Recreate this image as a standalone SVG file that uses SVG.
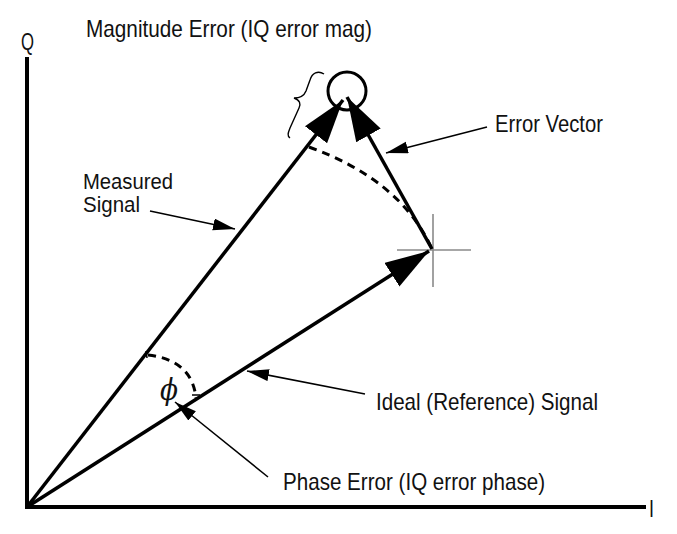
<svg xmlns="http://www.w3.org/2000/svg" width="677" height="534" viewBox="0 0 677 534">
<style>
text{font-family:"Liberation Sans",Arial,sans-serif;font-size:24px;fill:#111}
.axis{stroke:#000;stroke-width:4;fill:none}
.vec{stroke:#000;stroke-width:3.5;fill:none}
.ptr{stroke:#000;stroke-width:1.5;fill:none}
.dash{stroke:#000;stroke-width:3;fill:none;stroke-dasharray:8 6}
.cross{stroke:#8a8a8a;stroke-width:1.6}
</style>
<defs>
<marker id="big" markerUnits="userSpaceOnUse" markerWidth="46" markerHeight="30" refX="44" refY="14" orient="auto" viewBox="0 0 46 30">
<path d="M0,0 L44,14 L0,28 z" fill="#000"/>
</marker>
<marker id="small" markerUnits="userSpaceOnUse" markerWidth="24" markerHeight="14" refX="22" refY="6" orient="auto" viewBox="0 0 24 14">
<path d="M0,0 L22,6 L0,12 z" fill="#000"/>
</marker>
</defs>
<g id="axes">
<line class="axis" x1="27" y1="57" x2="27" y2="509"/>
<line class="axis" x1="25" y1="507" x2="646" y2="507"/>
<text id="q-label" x="21" y="50" textLength="13" lengthAdjust="spacingAndGlyphs">Q</text>
<text id="i-label" x="649" y="517" textLength="5" lengthAdjust="spacingAndGlyphs">I</text>
</g>
<g id="crosshair">
<line class="cross" x1="397" y1="250" x2="471" y2="250"/>
<line class="cross" x1="433" y1="214" x2="433" y2="287"/>
</g>
<g id="magnitude-circle">
<circle cx="347" cy="91" r="19" fill="none" stroke="#000" stroke-width="3"/>
<path d="M324,74 C318,70 312,73 310,80 L306,91 C304,96 300,98 294,98 C300,100 301,104 299,108 L290,128 C288,133 287,136 290,138" fill="none" stroke="#000" stroke-width="1.4"/>
</g>
<g id="connectors">
<line id="measured-signal" class="vec" x1="27" y1="507" x2="343" y2="100" marker-end="url(#big)"/>
<line id="ideal-signal" class="vec" x1="27" y1="507" x2="429" y2="251" marker-end="url(#big)"/>
<line id="error-vector" class="vec" x1="432" y1="249" x2="347" y2="97" marker-end="url(#big)"/>
<path id="mag-arc" class="dash" d="M309,147 Q400,180 431,247"/>
<path id="phase-arc" class="dash" d="M148,355 Q192,360 196,398"/>
<line class="ptr" x1="146" y1="351" x2="147" y2="358" stroke-width="2"/>
<line class="ptr" x1="192" y1="395" x2="200" y2="395" stroke-width="2"/>
<line class="ptr" x1="150" y1="211" x2="235" y2="229" marker-end="url(#small)"/>
<line class="ptr" x1="487" y1="127" x2="386" y2="153" marker-end="url(#small)"/>
<line class="ptr" x1="365" y1="394" x2="247" y2="371" marker-end="url(#small)"/>
<line class="ptr" x1="268" y1="477" x2="175" y2="402" marker-end="url(#small)"/>
</g>
<g id="labels">
<text id="mag-error" x="86" y="37" textLength="286" lengthAdjust="spacingAndGlyphs">Magnitude Error (IQ error mag)</text>
<text id="measured" x="83" y="189" textLength="90" lengthAdjust="spacingAndGlyphs" style="font-size:22px">Measured</text>
<text id="signal" x="83" y="212" style="font-size:22px" textLength="57" lengthAdjust="spacingAndGlyphs">Signal</text>
<text id="error-vec" x="495" y="132" textLength="108" lengthAdjust="spacingAndGlyphs">Error Vector</text>
<text id="ideal" x="376" y="410" textLength="222" lengthAdjust="spacingAndGlyphs">Ideal (Reference) Signal</text>
<text id="phase-error" x="283" y="490" textLength="262" lengthAdjust="spacingAndGlyphs">Phase Error (IQ error phase)</text>
<text id="phi" x="160" y="400" textLength="18" lengthAdjust="spacingAndGlyphs" style="font-family:'DejaVu Serif',serif;font-size:30px;font-style:italic;font-weight:normal">ϕ</text>
</g>
</svg>
